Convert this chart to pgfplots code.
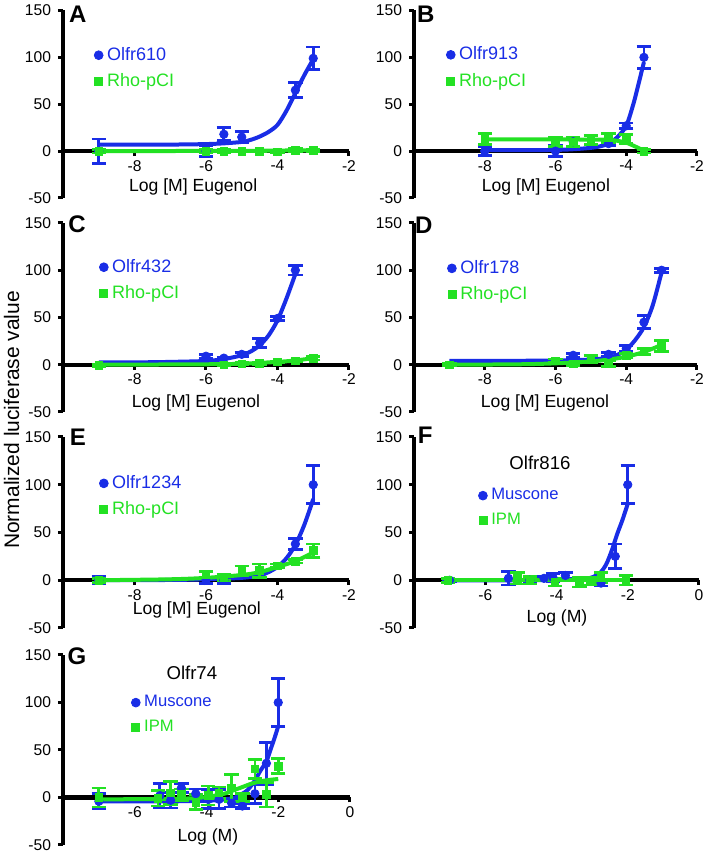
\documentclass[border=0pt]{standalone}
\usepackage{pgfplots}
\pgfplotsset{compat=1.18}
\usepackage{fontspec}
\setmainfont{Liberation Sans}
\definecolor{oblue}{RGB}{25,45,230}
\definecolor{ogreen}{RGB}{35,225,35}
\tikzset{letter/.style={font=\bfseries\fontsize{12}{14}\selectfont}}
\pgfplotsset{
  panel/.style={
    scale only axis, width=143pt, height=94.5pt,
    ymin=-50, ymax=150, ytick={-50,0,50,100,150},
    axis x line*=middle, axis y line*=left,
    axis line style={line width=2.2pt, black},
    hide obscured x ticks=false, hide obscured y ticks=false,
    tick align=outside, major tick length=2.5pt,
    every tick/.style={line width=1.5pt, black},
    tick label style={font=\fontsize{7.8}{9}\selectfont},
    xticklabel style={yshift=1.5pt},
    /pgf/number format/assume math mode=true,
    xlabel style={font=\fontsize{8.8}{10}\selectfont, anchor=center},
    clip=false,
    legend cell align=left,
    legend style={draw=none, fill=none, anchor=west, font=\fontsize{9}{10}\selectfont, row sep=1.2pt, inner sep=0pt},
  },
  bdat/.style={only marks, mark=*, color=oblue, mark size=2.1pt, forget plot,
    error bars/.cd, y dir=both, y explicit,
    error bar style={line width=1.4pt, oblue},
    error mark options={rotate=90, mark size=3.6pt, line width=1.4pt, oblue}},
  gdat/.style={only marks, mark=square*, color=ogreen, mark size=1.9pt, forget plot,
    error bars/.cd, y dir=both, y explicit,
    error bar style={line width=1.4pt, ogreen},
    error mark options={rotate=90, mark size=3.6pt, line width=1.4pt, ogreen}},
  bfit/.style={oblue, line width=2pt, smooth, no marks, forget plot},
  gfit/.style={ogreen, line width=2pt, smooth, no marks, forget plot},
}
\newcommand{\leg}[2]{%
  \addlegendimage{only marks, mark=*, oblue, mark size=2.2pt}
  \addlegendentry{\textcolor{oblue}{#1}}
  \addlegendimage{only marks, mark=square*, ogreen, mark size=2pt}
  \addlegendentry{\textcolor{ogreen}{#2}}
}
\begin{document}
\begin{tikzpicture}
\path[use as bounding box] (0,0) rectangle (352pt,426.5pt);
\node[rotate=90, font=\fontsize{10.5}{12}\selectfont] at (5.8pt,216.5pt) {Normalized luciferase value};

% ---------------- A
\begin{axis}[panel, at={(31.5pt,327.5pt)}, anchor=south west, height=93.75pt,
  xmin=-10, xmax=-2, xtick={-8,-6,-4,-2},
  xlabel={Log [M] Eugenol}, xlabel style={at={(axis description cs:0.455,0.059)}},
  legend style={at={(0.108,0.691)}}]
\leg{Olfr610}{Rho-pCI}
\addplot[bfit] coordinates {(-9,7) (-7,7) (-6,7.5) (-5.5,8.3) (-5,9.8) (-4.75,12) (-4.5,15.5) (-4.25,20.5) (-4,28) (-3.75,43) (-3.5,62) (-3.25,81) (-3,98)};
\addplot[bdat] table[x=x,y=y,y error=e,row sep=\\] {x y e\\ -9 0 13\\ -6 0 6\\ -5.5 18 7\\ -5 15 6\\ -3.5 65 8\\ -3 99 12\\};
\addplot[gfit] coordinates {(-9,0) (-5,0.3) (-3,1)};
\addplot[gdat] table[x=x,y=y,y error=e,row sep=\\] {x y e\\ -9 0 2\\ -6 0 2\\ -5.5 0 2\\ -5 0 1\\ -4.5 0 1\\ -4 -1 1\\ -3.5 1 2\\ -3 1 1\\};
\node[letter] at (rel axis cs:0.052,0.981) {A};
\end{axis}

% ---------------- B
\begin{axis}[panel, at={(207pt,327.5pt)}, anchor=south west, width=141.5pt, height=93.75pt,
  xmin=-10, xmax=-2, xtick={-8,-6,-4,-2},
  xlabel={Log [M] Eugenol}, xlabel style={at={(axis description cs:0.466,0.059)}},
  legend style={at={(0.113,0.693)}}]
\leg{Olfr913}{Rho-pCI}
\addplot[bfit] coordinates {(-8,1) (-7,1) (-6,1.3) (-5.5,2) (-5,3.5) (-4.75,5) (-4.5,8) (-4.25,15) (-4,27) (-3.8,50) (-3.65,72) (-3.5,95)};
\addplot[bdat] table[x=x,y=y,y error=e,row sep=\\] {x y e\\ -8 0 5\\ -6 0 6\\ -5.5 10 5\\ -4.5 8 2\\ -4 27 3\\ -3.5 100 12\\};
\addplot[gfit] coordinates {(-8,12.5) (-6,12.5) (-5,12.3) (-4.5,12) (-4.25,11) (-4,9) (-3.75,5) (-3.5,0.5)};
\addplot[gdat] table[x=x,y=y,y error=e,row sep=\\] {x y e\\ -8 13 6\\ -6 10 5\\ -5.5 10 5\\ -5 12 5\\ -4.5 14 5\\ -4 13 5\\ -3.5 0 2\\};
\node[letter] at (rel axis cs:0.042,0.981) {B};
\end{axis}

% ---------------- C
\begin{axis}[panel, at={(31.5pt,220.5pt)}, anchor=south west,
  xmin=-10, xmax=-2, xtick={-8,-6,-4,-2},
  xlabel={Log [M] Eugenol}, xlabel style={at={(axis description cs:0.465,0.049)}},
  legend style={at={(0.126,0.696)}}]
\leg{Olfr432}{Rho-pCI}
\addplot[bfit] coordinates {(-9,2.5) (-8,2.5) (-7,3) (-6,4) (-5.5,6) (-5,10) (-4.75,14) (-4.5,20.5) (-4.25,31) (-4,47) (-3.75,70) (-3.5,96)};
\addplot[bdat] table[x=x,y=y,y error=e,row sep=\\] {x y e\\ -6 9 2\\ -5.5 7 1\\ -5 11 2\\ -4.5 23 5\\ -4 49 2\\ -3.5 100 5\\};
\addplot[gfit] coordinates {(-9,0) (-6,0.5) (-5,1) (-4.5,2) (-4,3) (-3.5,4.5) (-3,7)};
\addplot[gdat] table[x=x,y=y,y error=e,row sep=\\] {x y e\\ -9 -1 1\\ -5.5 0 1\\ -5 1 1\\ -4.5 1.5 1\\ -4 3 1\\ -3.5 4 1\\ -3 7 2\\};
\node[letter] at (rel axis cs:0.049,0.995) {C};
\end{axis}

% ---------------- D
\begin{axis}[panel, at={(207pt,220.5pt)}, anchor=south west, width=141.5pt,
  xmin=-10, xmax=-2, xtick={-8,-6,-4,-2},
  xlabel={Log [M] Eugenol}, xlabel style={at={(axis description cs:0.463,0.048)}},
  legend style={at={(0.117,0.69)}}]
\leg{Olfr178}{Rho-pCI}
\addplot[bfit] coordinates {(-9,4) (-7,4.2) (-6,4.5) (-5,5.5) (-4.5,7.5) (-4.25,10.5) (-4,16) (-3.75,26) (-3.5,40) (-3.25,63) (-3,98)};
\addplot[bdat] table[x=x,y=y,y error=e,row sep=\\] {x y e\\ -5.5 10 2\\ -4.5 11 2\\ -4 17 3\\ -3.5 45 7\\ -3 100 2\\};
\addplot[gfit] coordinates {(-9,0) (-7,0.5) (-6,1.5) (-5,3.5) (-4.5,5.5) (-4,8.5) (-3.5,13.5) (-3,21)};
\addplot[gdat] table[x=x,y=y,y error=e,row sep=\\] {x y e\\ -9 0 1\\ -6 4 2\\ -5.5 1 2\\ -5 6 4\\ -4.5 1 3\\ -4 10 2\\ -3.5 14 3\\ -3 20 6\\};
\node[letter] at (rel axis cs:0.035,0.989) {D};
\end{axis}

% ---------------- E
\begin{axis}[panel, at={(31.5pt,112.5pt)}, anchor=south west, height=95.5pt,
  xmin=-10, xmax=-2, xtick={-8,-6,-4,-2},
  xlabel={Log [M] Eugenol}, xlabel style={at={(axis description cs:0.468,0.092)}},
  legend style={at={(0.126,0.688)}}]
\leg{Olfr1234}{Rho-pCI}
\addplot[bfit] coordinates {(-9,0) (-7,0.3) (-6,1) (-5,2.5) (-4.5,5) (-4.25,8.5) (-4,14) (-3.75,23) (-3.5,37) (-3.25,58) (-3,85)};
\addplot[bdat] table[x=x,y=y,y error=e,row sep=\\] {x y e\\ -9 0 4\\ -6 0 3\\ -5.5 0 3\\ -3.5 38 6\\ -3 100 20\\};
\addplot[gfit] coordinates {(-9,0) (-7,1) (-6,2.5) (-5,5.5) (-4.5,8.5) (-4,14) (-3.5,20) (-3,29)};
\addplot[gdat] table[x=x,y=y,y error=e,row sep=\\] {x y e\\ -9 0 2\\ -6 6 3\\ -5.5 3 3\\ -5 10 5\\ -4.5 10 7\\ -4 15 2\\ -3.5 20 2\\ -3 31 7\\};
\node[letter] at (rel axis cs:0.052,1.0) {E};
\end{axis}

% ---------------- F
\begin{axis}[panel, at={(207pt,112.5pt)}, anchor=south west, width=142.5pt, height=95.5pt,
  xmin=-8, xmax=0, xtick={-6,-4,-2,0},
  xlabel={Log (M)}, xlabel style={at={(axis description cs:0.502,0.052)}},
  legend style={at={(0.225,0.628)}, font=\fontsize{8.3}{10}\selectfont}]
\leg{Muscone}{IPM}
\addplot[bfit] coordinates {(-7,0) (-5,0) (-4,0.3) (-3.5,0.8) (-3.2,1.5) (-3,3) (-2.77,8) (-2.6,17) (-2.44,32) (-2.3,48) (-2.15,63) (-2,80)};
\addplot[bdat] table[x=x,y=y,y error=e,row sep=\\] {x y e\\ -7 0 1\\ -5.35 2 7\\ -4.75 0 2\\ -4.35 2 2\\ -4.1 3 4\\ -3.75 5 3\\ -2.75 -3 3\\ -2.35 25 13\\ -2 100 20\\};
\addplot[gfit] coordinates {(-7,0) (-2,0)};
\addplot[gdat] table[x=x,y=y,y error=e,row sep=\\] {x y e\\ -7.05 0 2\\ -5.1 2 6\\ -4.75 0 4\\ -4.05 -2 4\\ -3.35 -2 5\\ -3.05 -1 4\\ -2.75 3 5\\ -2.05 0 5\\};
\node[letter] at (rel axis cs:0.039,1.01) {F};
\node[font=\fontsize{9.3}{11}\selectfont] at (rel axis cs:0.442,0.864) {Olfr816};
\end{axis}

% ---------------- G
\begin{axis}[panel, at={(31.5pt,4pt)}, anchor=south west, width=143.5pt, height=95pt,
  xmin=-8, xmax=0, xtick={-6,-4,-2,0},
  xlabel={Log (M)}, xlabel style={at={(axis description cs:0.505,0.042)}},
  legend style={at={(0.237,0.684)}, font=\fontsize{8.3}{10}\selectfont}]
\leg{Muscone}{IPM}
\addplot[bfit] coordinates {(-7,-4) (-5,-4) (-4,-3.5) (-3.5,-2) (-3.2,0) (-3,4) (-2.85,8) (-2.65,18) (-2.5,28) (-2.33,38) (-2.2,52) (-2.1,63) (-2,75)};
\addplot[bdat] table[x=x,y=y,y error=e,row sep=\\] {x y e\\ -7 -4 8\\ -5.3 2 13\\ -5.0 -3 8\\ -4.7 10 5\\ -4.3 4 5\\ -3.95 -2 10\\ -3.65 -2 10\\ -3.3 -6 4\\ -3.0 -9 3\\ -2.65 4 10\\ -2.33 36 22\\ -2.0 100 25\\};
\addplot[gfit] coordinates {(-7,-2) (-5,-1.5) (-4.5,-1) (-4,0.5) (-3.5,4) (-3.25,7.5) (-3,11) (-2.75,14.5) (-2.5,17) (-2.25,18.5) (-2,19.5)};
\addplot[gdat] table[x=x,y=y,y error=e,row sep=\\] {x y e\\ -7 0 10\\ -5.35 -1 8\\ -5.0 5 12\\ -4.7 3 6\\ -4.3 -5 8\\ -3.95 2 10\\ -3.65 5 6\\ -3.3 10 14\\ -3.0 0 4\\ -2.65 30 10\\ -2.33 3 13\\ -2.0 33 8\\};
\node[letter] at (rel axis cs:0.049,0.995) {G};
\node[font=\fontsize{9.3}{11}\selectfont] at (rel axis cs:0.449,0.905) {Olfr74};
\end{axis}
\end{tikzpicture}
\end{document}
